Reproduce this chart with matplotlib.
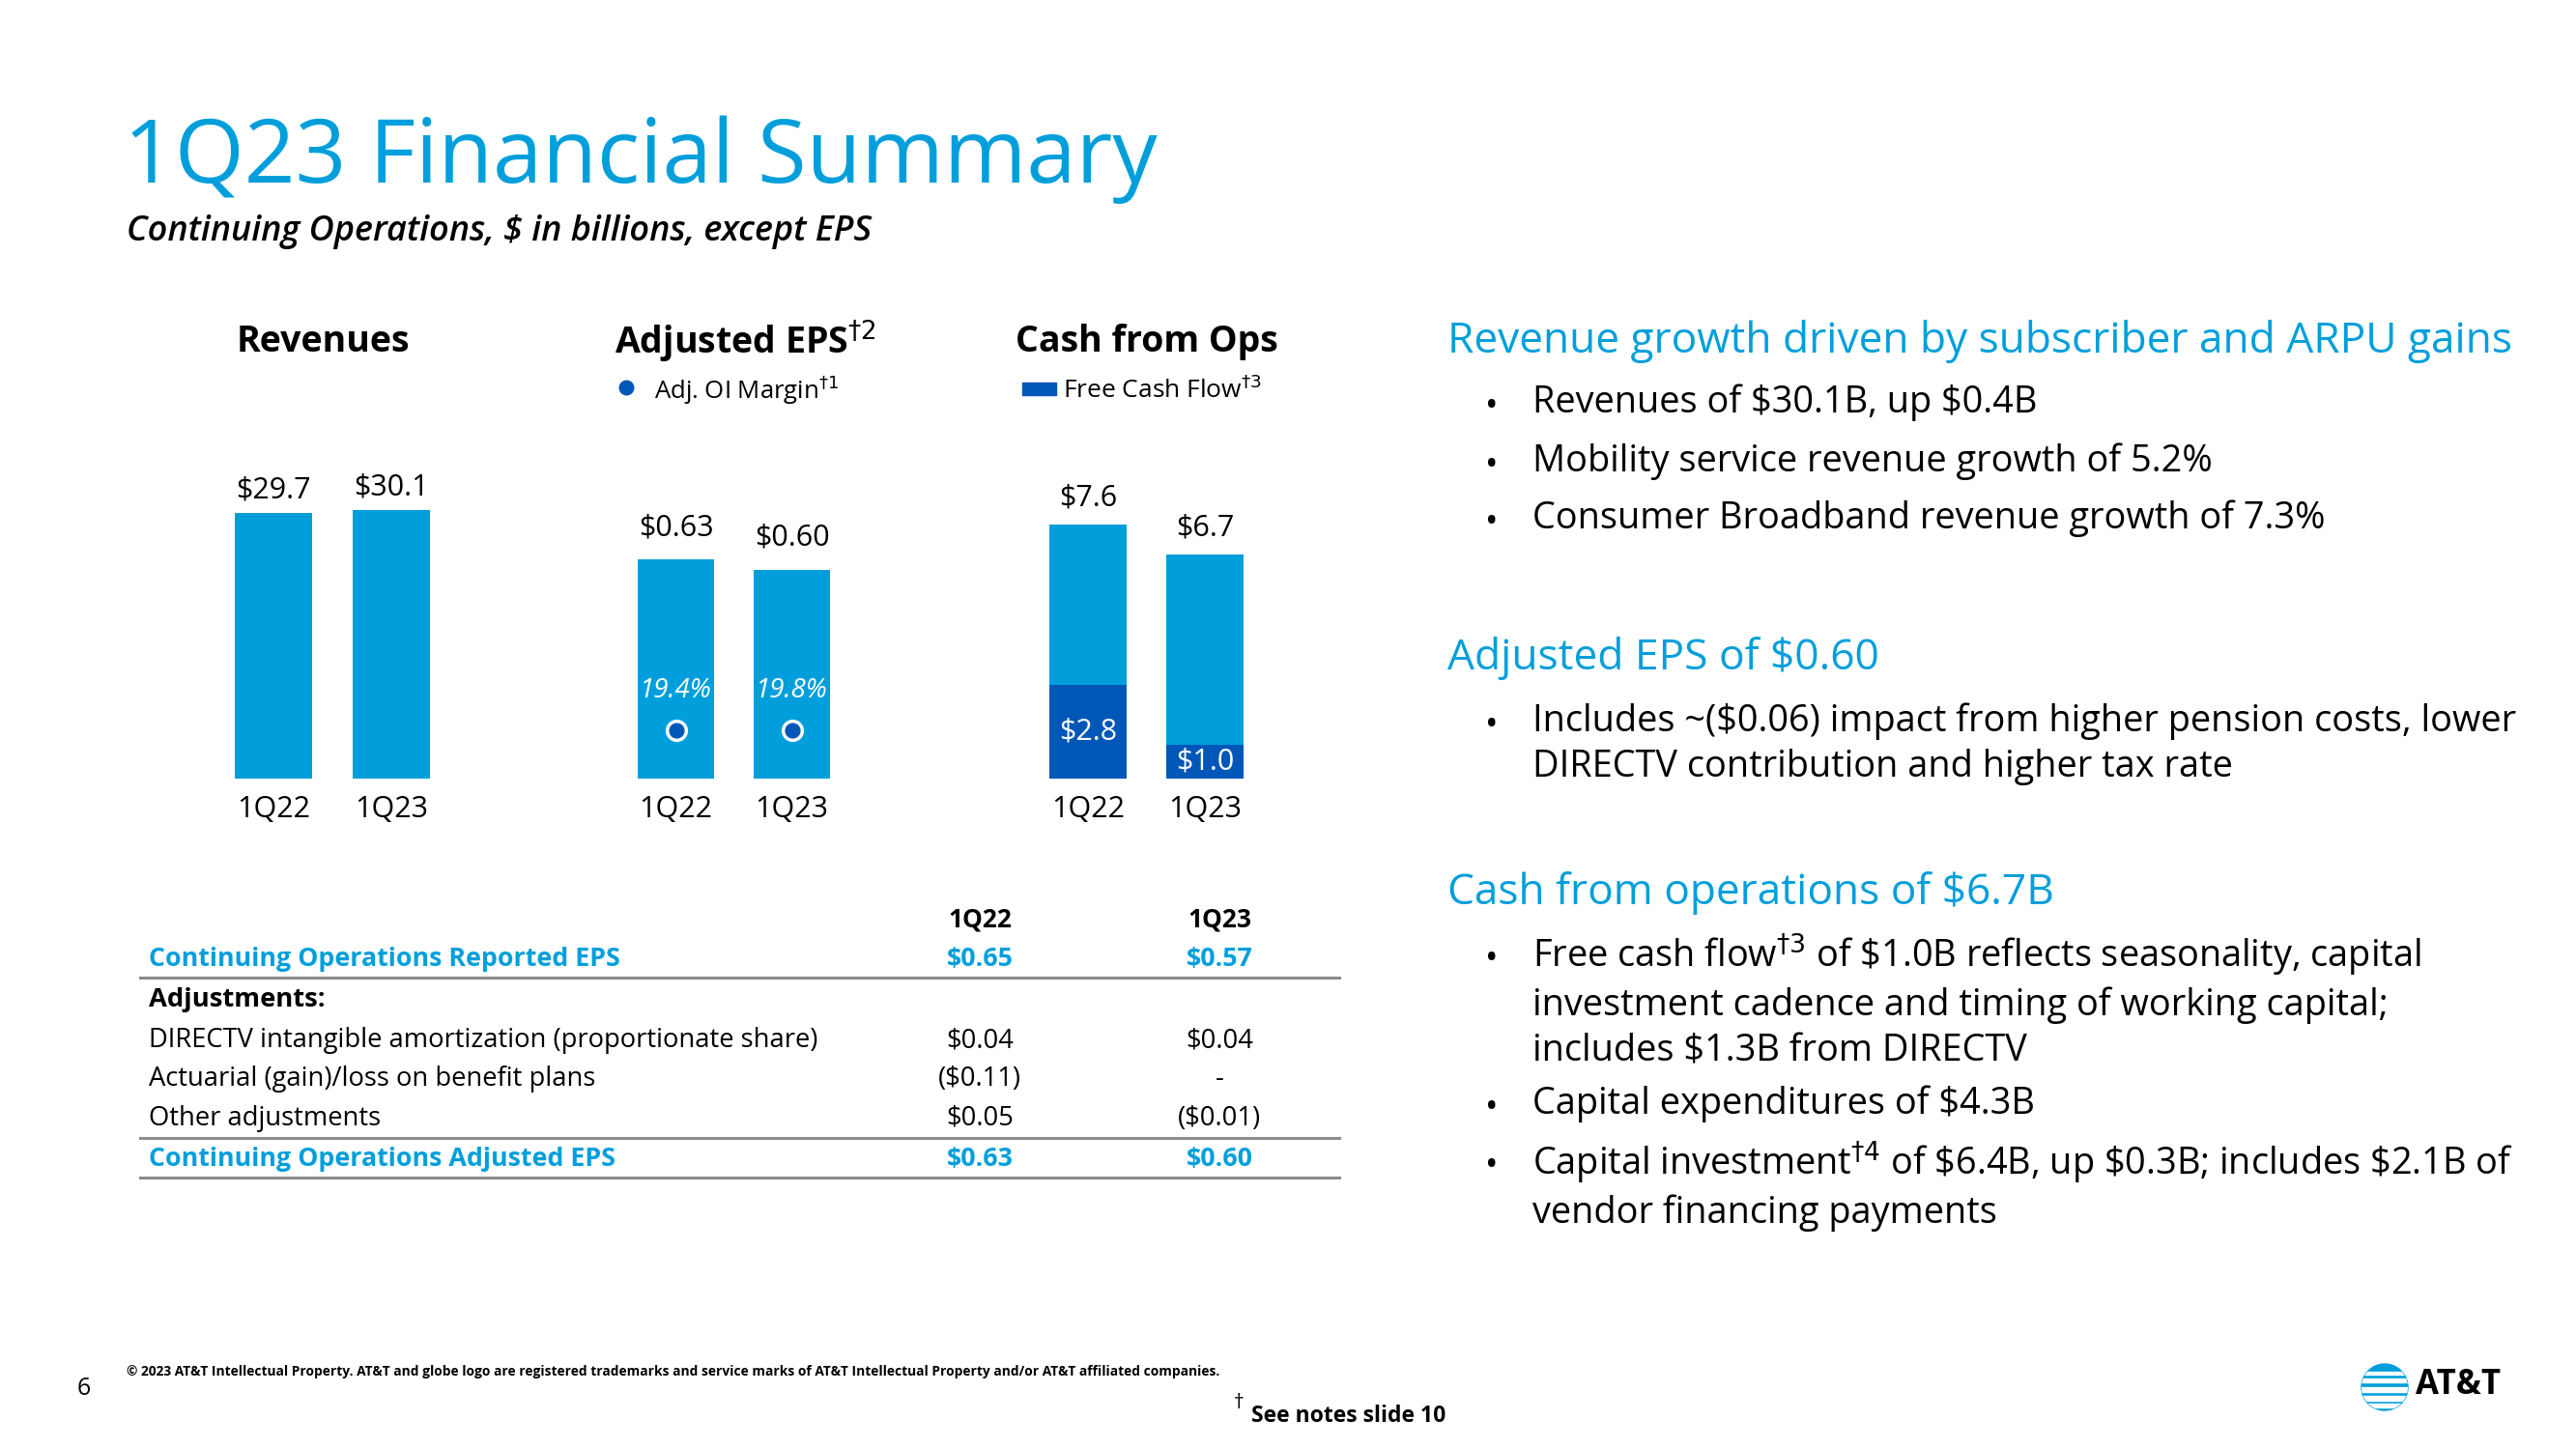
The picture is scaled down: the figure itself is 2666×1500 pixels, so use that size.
import matplotlib
matplotlib.use("Agg")
import matplotlib.pyplot as plt
from matplotlib.patches import Circle, Rectangle
from matplotlib.transforms import blended_transform_factory

plt.rcParams["font.family"] = ["Open Sans", "DejaVu Sans"]

# chart data
quarters = ["1Q22", "1Q23"]
revenues = [29.7, 30.1]
adj_eps = [0.63, 0.60]
oi_margin = [19.4, 19.8]
cash_from_ops = [7.6, 6.7]
free_cash_flow = [2.8, 1.0]

# EPS reconciliation table
table_rows = [
    "Continuing Operations Reported EPS",
    "Adjustments:",
    "DIRECTV intangible amortization (proportionate share)",
    "Actuarial (gain)/loss on benefit plans",
    "Other adjustments",
    "Continuing Operations Adjusted EPS",
]
table_1q22 = ["$0.65", "", "$0.04", "($0.11)", "$0.05", "$0.63"]
table_1q23 = ["$0.57", "", "$0.04", "-", "($0.01)", "$0.60"]

# commentary on the right
headings = [
    "Revenue growth driven by subscriber and ARPU gains",
    "Adjusted EPS of $0.60",
    "Cash from operations of $6.7B",
]
bullets = [
    ["Revenues of $30.1B, up $0.4B",
     "Mobility service revenue growth of 5.2%",
     "Consumer Broadband revenue growth of 7.3%"],
    ["Includes ~($0.06) impact from higher pension costs, lower\nDIRECTV contribution and higher tax rate"],
    [r"Free cash flow$^{\dagger3}$ of \$1.0B reflects seasonality, capital" "\n"
     r"investment cadence and timing of working capital;" "\n"
     r"includes \$1.3B from DIRECTV",
     "Capital expenditures of $4.3B",
     r"Capital investment$^{\dagger4}$ of \$6.4B, up \$0.3B; includes \$2.1B of" "\n"
     r"vendor financing payments"],
]

LIGHT = "#009FDB"
DARK = "#0057B8"
GREY = "#8c8c8c"
W, H = 2666, 1500

fig = plt.figure(figsize=(W / 100, H / 100), dpi=100)
bg = fig.add_axes([0, 0, 1, 1])
bg.set_xlim(0, W)
bg.set_ylim(H, 0)
bg.axis("off")


def put(x, y, s, **kw):
    kw.setdefault("va", "center")
    return bg.text(x, y, s, parse_math=("^{" in s), **kw)


def px_axes(left, right, top, bottom):
    ax = fig.add_axes([left / W, 1 - bottom / H, (right - left) / W, (bottom - top) / H])
    for s in ax.spines.values():
        s.set_visible(False)
    ax.set_yticks([])
    ax.set_xticks(range(len(quarters)), quarters, fontsize=22)
    ax.tick_params(axis="x", length=0, pad=12)
    ax.set_xlim(-0.5, len(quarters) - 0.5)
    ax.patch.set_alpha(0)
    return ax


# title block
put(128, 165, "1Q23 Financial Summary", fontsize=66.5, color=LIGHT, fontweight="medium")
put(131, 240, "Continuing Operations, $ in billions, except EPS", fontsize=26,
    style="italic", fontweight="semibold")

# Revenues
ax1 = px_axes(222, 466, 436, 806)
b = ax1.bar(range(2), revenues, width=0.656, color=LIGHT)
ax1.set_ylim(0, 40)
ax1.bar_label(b, labels=[f"${v:.1f}" for v in revenues], padding=6, fontsize=22)
put(334, 354, "Revenues", fontsize=27, fontweight="bold", ha="center")

# Adjusted EPS with OI margin
ax2 = px_axes(639.5, 879.5, 446, 806)
b = ax2.bar(range(2), adj_eps, width=0.66, color=LIGHT)
ax2.set_ylim(0, 1)
ax2.bar_label(b, labels=[f"${v:.2f}" for v in adj_eps], padding=13, fontsize=22)
tr = blended_transform_factory(ax2.transData, ax2.transAxes)
for i, m in enumerate(oi_margin):
    ax2.text(i, 0.253, f"{m:.1f}%", transform=tr, color="white", style="italic",
             fontsize=20, ha="center", va="center")
ax2.scatter(range(2), [0.139] * 2, transform=tr, s=200, color=DARK,
            edgecolor="white", linewidth=2.5, zorder=3)
put(771, 354, r"Adjusted EPS$^{\dagger2}$", fontsize=27, fontweight="bold", ha="center")
bg.scatter([648], [401], s=110, color=DARK)
put(677, 404, r"Adj. OI Margin$^{\dagger1}$", fontsize=18.5)

# Cash from Ops with free cash flow
ax3 = px_axes(1065.5, 1307.5, 460, 806)
b = ax3.bar(range(2), cash_from_ops, width=0.661, color=LIGHT)
f = ax3.bar(range(2), free_cash_flow, width=0.661, color=DARK)
ax3.set_ylim(0, 10)
ax3.bar_label(b, labels=[f"${v:.1f}" for v in cash_from_ops], padding=9, fontsize=22)
ax3.bar_label(f, labels=[f"${v:.1f}" for v in free_cash_flow], label_type="center",
              color="white", fontsize=22)
put(1187, 354, "Cash from Ops", fontsize=27, fontweight="bold", ha="center")
bg.add_patch(Rectangle((1058, 396), 35, 13, color=DARK))
put(1100, 404, r"Free Cash Flow$^{\dagger3}$", fontsize=19)

# table
put(1014, 952, quarters[0], fontsize=19, fontweight="bold", ha="center")
put(1262, 952, quarters[1], fontsize=19, fontweight="bold", ha="center")
row_y = [993, 1035, 1077, 1117, 1158, 1200]
for k, (lab, v1, v2) in enumerate(zip(table_rows, table_1q22, table_1q23)):
    kw = dict(fontsize=19.7)
    if k in (0, 5):
        kw.update(color=LIGHT, fontweight="bold", fontsize=19.3)
    elif k == 1:
        kw.update(fontweight="bold")
    put(154, row_y[k], lab, **kw)
    put(1014, row_y[k], v1, ha="center", **kw)
    put(1262, row_y[k], v2, ha="center", **kw)
for yy in (1012, 1178, 1219):
    bg.plot([145, 1386], [yy, yy], color=GREY, lw=2.2)

# commentary
head_y = [354, 682, 925]
bullet_y = [[417, 478, 537], [770], [1036, 1143, 1227]]
for h, hy, bl, by in zip(headings, head_y, bullets, bullet_y):
    put(1498, hy, h, fontsize=31.9, color=LIGHT)
    for t, ty in zip(bl, by):
        n = t.count("\n")
        put(1537, ty - n * 23.5 + 5, "\u2022", fontsize=26)
        put(1586, ty, t, fontsize=27.3, linespacing=1.3)

# footer
put(80, 1437, "6", fontsize=18)
put(131, 1420, "\u00a9 2023 AT&T Intellectual Property. AT&T and globe logo are registered trademarks "
    "and service marks of AT&T Intellectual Property and/or AT&T affiliated companies.",
    fontsize=9.9, fontweight="bold")
put(1277, 1452, "\u2020", fontsize=15)
put(1295, 1466, "See notes slide 10", fontsize=16.5, fontweight="bold")

globe = Circle((2468, 1436), 24, color=LIGHT)
bg.add_patch(globe)
for off, th in [(-15, 3), (-7, 4), (2, 5), (11, 5), (19, 4)]:
    r = Rectangle((2440, 1436 + off - th / 2), 60, th, color="white")
    bg.add_patch(r)
    r.set_clip_path(globe)
put(2500, 1434, "AT&T", fontsize=25, fontweight="bold")

fig.savefig("out.png", dpi=100)
